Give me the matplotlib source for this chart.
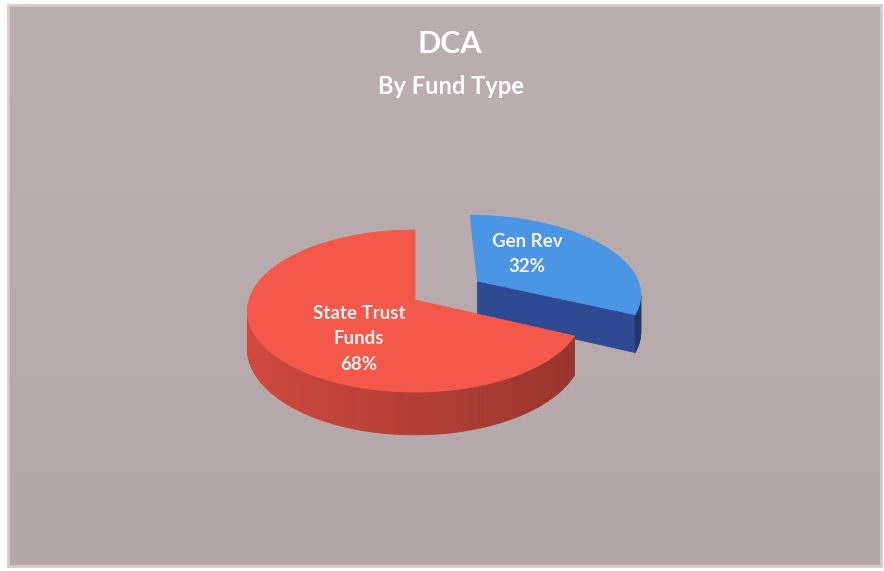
import numpy as np
import matplotlib.pyplot as plt
from matplotlib.patches import Polygon, Rectangle

# ---- data ----
fund_types = ['Gen Rev', 'State Trust\nFunds']
shares = [32, 68]
explode = [0.46, 0.0]

top_colors = ['#4B95E5', '#F4584A']
side_colors = ['#2F4C98', '#D44A3E']

# ---- layout (pixels) ----
W, H = 884, 571
CX, CY = 415, 300        # pie centre on screen
RX, RY = 166, 79.5       # ellipse radii
K = 0.136                # perspective strength
DEPTH = 37               # thickness of the pie


def proj(u, v, z=0.0):
    w = 1 + K * np.asarray(v)
    return CX + RX * np.asarray(u) / w, CY - RY * np.asarray(v) / w + z * DEPTH / w


def shade(color, f):
    c = np.array(plt.matplotlib.colors.to_rgb(color)) * f
    return tuple(np.clip(c, 0, 1))


def area(xs, ys):
    ys = -np.asarray(ys)
    return 0.5 * np.sum(xs * np.roll(ys, -1) - np.roll(xs, -1) * ys)


fig = plt.figure(figsize=(W / 100, H / 100), dpi=100)
fig.patch.set_facecolor('white')
ax = fig.add_axes([0, 0, 1, 1])
ax.set_xlim(0, W)
ax.set_ylim(H, 0)
ax.axis('off')

# background panel with a soft vertical gradient
grad = np.linspace(0, 1, 256)[:, None]
top_c = np.array([186, 174, 176]) / 255
bot_c = np.array([180, 168, 171]) / 255
img = top_c + (bot_c - top_c) * grad[..., None]
img = np.repeat(img, 2, axis=1)
ax.imshow(img, extent=[8, 881, 566, 5], aspect='auto', zorder=0)
ax.add_patch(Rectangle((8, 5), 873, 561, fill=False, edgecolor='#D6C9CB',
                       linewidth=2.0, zorder=1))

# ---- slices ----
total = float(sum(shares))
bounds = np.concatenate([[0], np.cumsum(shares)]) / total * 2 * np.pi
slices = []
for i in range(len(shares)):
    t0, t1 = bounds[i], bounds[i + 1]
    mid = (t0 + t1) / 2
    eu, ev = explode[i] * np.sin(mid), explode[i] * np.cos(mid)
    slices.append((ev, i, t0, t1, eu))

z = 2
for ev, i, t0, t1, eu in sorted(slices, reverse=True):
    th = np.linspace(t0, t1, 160)
    u = eu + np.sin(th)
    v = ev + np.cos(th)
    faces = []
    # outer band
    for j in range(len(th) - 1):
        uu = np.array([u[j], u[j + 1], u[j + 1], u[j]])
        vv = np.array([v[j], v[j + 1], v[j + 1], v[j]])
        zz = np.array([0, 0, 1, 1])
        xs, ys = proj(uu, vv, zz)
        if area(xs, ys) > 0:
            f = 1.0 - 0.3 * (np.sin(th[j]) + 1) / 2
            faces.append((vv.mean(), xs, ys, shade(side_colors[i], f)))
    # radial faces, kept only when their outward normal points at the viewer
    for t, sgn, uu, vv in [(t1, 1, [u[-1], eu, eu, u[-1]], [v[-1], ev, ev, v[-1]]),
                           (t0, -1, [eu, u[0], u[0], eu], [ev, v[0], v[0], ev])]:
        nv = np.cos(t + sgn * np.pi / 2)
        if nv < -0.05:
            xs, ys = proj(np.array(uu), np.array(vv), np.array([0, 0, 1, 1]))
            faces.append((np.mean(vv), xs, ys, shade(side_colors[i], 0.97)))
    for _, xs, ys, c in sorted(faces, key=lambda f: -f[0]):
        ax.add_patch(Polygon(np.column_stack([xs, ys]), closed=True,
                             facecolor=c, edgecolor=c, linewidth=0.6, zorder=z))
    # top face
    xs, ys = proj(np.concatenate([[eu], u]), np.concatenate([[ev], v]))
    ax.add_patch(Polygon(np.column_stack([xs, ys]), closed=True,
                         facecolor=top_colors[i], edgecolor=top_colors[i],
                         linewidth=0.6, zorder=z + 1))
    z += 2

# ---- labels ----
font = 'Lato'
label_xy = [(527, 254), (359, 339)]
for name, val, (x, y) in zip(fund_types, shares, label_xy):
    ax.text(x, y, f'{name}\n{val}%', ha='center', va='center', color='#F6F0F0',
            fontsize=13.5, fontweight='bold', family=font, linespacing=1.6,
            zorder=20)

ax.text(450, 44, 'DCA', ha='center', va='center', color='white',
        fontsize=22, fontweight='bold', family=font, zorder=20)
ax.text(451, 86, 'By Fund Type', ha='center', va='center', color='white',
        fontsize=17, fontweight='bold', family=font, zorder=20)

fig.savefig('out.png', dpi=100, facecolor=fig.get_facecolor())
